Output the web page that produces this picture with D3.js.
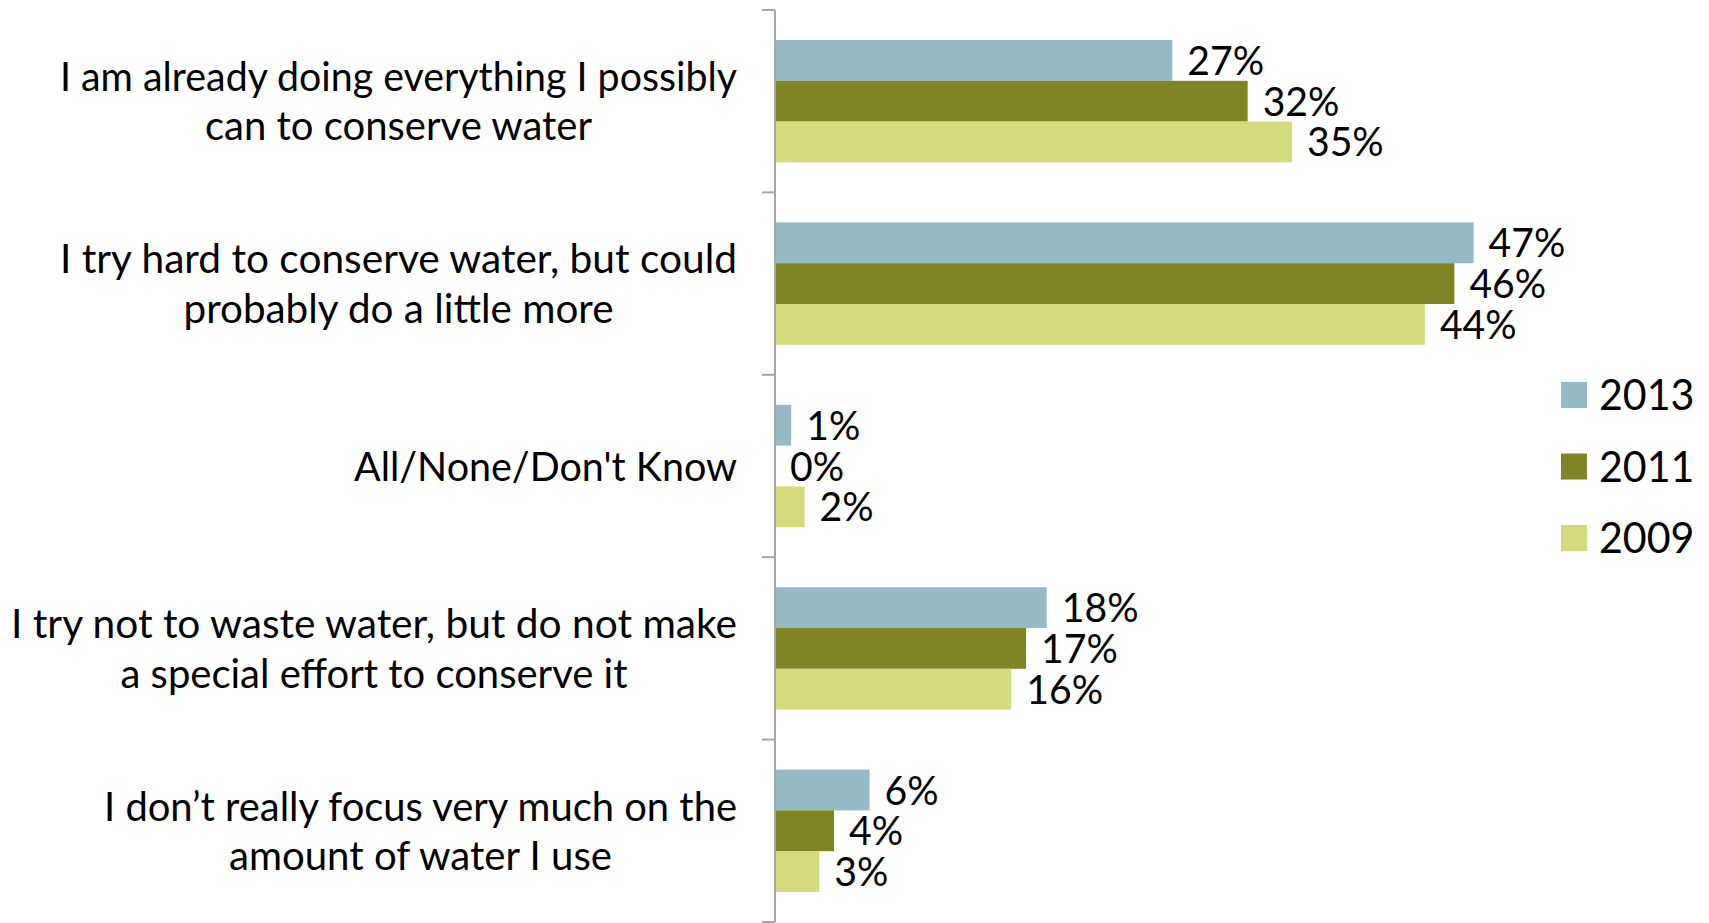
<!DOCTYPE html>
<html>
<head>
<meta charset="utf-8">
<script src="https://cdn.jsdelivr.net/npm/d3@7"></script>
<style>
  html, body { margin: 0; padding: 0; background: #fff; }
  svg { display: block; }
  text { font-family: "Gill Sans", "Gill Sans MT", Lato, sans-serif; fill: #000; }
</style>
</head>
<body>
<svg id="chart" width="1709" height="923"></svg>
<script>
// ---- data ----
const categories = [
  ["I am already doing everything I possibly", "can to conserve water"],
  ["I try hard to conserve water, but could", "probably do a little more"],
  ["All/None/Don't Know"],
  ["I try not to waste water, but do not make", "a special effort to conserve it"],
  ["I don’t really focus very much on the", "amount of water I use"]
];
const seriesNames = ["2013", "2011", "2009"];
const values2013 = [26.9, 47.3, 1.1, 18.4, 6.4];
const values2011 = [32.0, 46.0, 0.0, 17.0, 4.0];
const values2009 = [35.0, 44.0, 2.0, 16.0, 3.0];
const seriesColors = ["#95BAC4", "#7F8427", "#D4DB7E"];

// ---- layout ----
const W = 1709, H = 923;
const axisX = 775, plotTop = 10, plotBottom = 922;
// rendered widths of each category label line (to mimic the narrow original face)
const labelLineWidths = [[677, 387], [677, 430], [383], [726, 507], [633, 383]];
const svg = d3.select("#chart");

const seriesValues = [values2013, values2011, values2009];
const catIdx = d3.range(categories.length);

const x = d3.scaleLinear().domain([0, 50]).range([axisX, axisX + 738.5]);
const y = d3.scaleBand().domain(catIdx).range([plotTop, plotBottom]).padding(0);
const bw = y.bandwidth();
const yInner = d3.scaleBand().domain(seriesNames).range([bw * 0.1645, bw * (1 - 0.1645)]).padding(0);

const FS = 40;
function measure(str, size) {
  const t = svg.append("text").style("font-size", size + "px").text(str);
  const w = t.node().getComputedTextLength();
  t.remove();
  return w;
}
const k = Math.min(1, 674 / measure(categories[0][0], FS));

function fitText(sel) {
  sel.each(function() {
    const w = this.getComputedTextLength();
    d3.select(this).attr("textLength", w * k).attr("lengthAdjust", "spacingAndGlyphs");
  });
}

// ---- bars ----
const gBars = svg.append("g");
seriesNames.forEach((s, si) => {
  const vals = seriesValues[si];
  gBars.selectAll(null)
    .data(catIdx)
    .join("rect")
    .attr("x", x(0))
    .attr("y", i => y(i) + yInner(s))
    .attr("width", i => x(vals[i]) - x(0))
    .attr("height", yInner.bandwidth())
    .attr("fill", seriesColors[si]);
  gBars.selectAll(null)
    .data(catIdx)
    .join("text")
    .attr("x", i => x(vals[i]) + 15)
    .attr("y", i => y(i) + yInner(s) + yInner.bandwidth() / 2 + 14.5)
    .style("font-size", FS + "px")
    .text(i => Math.round(vals[i]) + "%")
    .call(fitText);
});

// ---- axis ----
const gAxis = svg.append("g");
gAxis.append("line")
  .attr("x1", axisX).attr("x2", axisX)
  .attr("y1", plotTop).attr("y2", plotBottom)
  .attr("stroke", "#A6A6A6").attr("stroke-width", 2);
const tickYs = catIdx.map(i => y(i)).concat([plotBottom]);
gAxis.selectAll(null).data(tickYs).join("line")
  .attr("x1", axisX - 13).attr("x2", axisX)
  .attr("y1", d => d).attr("y2", d => d)
  .attr("stroke", "#A6A6A6").attr("stroke-width", 2);

// ---- category labels ----
const labelRight = 737, lineH = 49.3;
const gLab = svg.append("g");
categories.forEach((lines, i) => {
  const cy = y(i) + bw / 2;
  const widths = labelLineWidths[i];
  const maxW = d3.max(widths);
  const cx = labelRight - maxW / 2;
  lines.forEach((l, li) => {
    gLab.append("text")
      .attr("x", cx)
      .attr("y", cy + 14.5 - lineH * (lines.length - 1) / 2 + lineH * li)
      .attr("text-anchor", "middle")
      .style("font-size", FS + "px")
      .attr("textLength", widths[li])
      .attr("lengthAdjust", "spacingAndGlyphs")
      .text(l);
  });
});

// ---- legend ----
const gLeg = svg.append("g");
const legY = d3.scalePoint().domain(seriesNames).range([382, 525]);
seriesNames.forEach((s, si) => {
  gLeg.append("rect")
    .attr("x", 1561).attr("y", legY(s))
    .attr("width", 26).attr("height", 26)
    .attr("fill", seriesColors[si]);
  gLeg.append("text")
    .attr("x", 1599).attr("y", legY(s) + 28)
    .style("font-size", "42px")
    .text(s)
    .call(fitText);
});
</script>
</body>
</html>
